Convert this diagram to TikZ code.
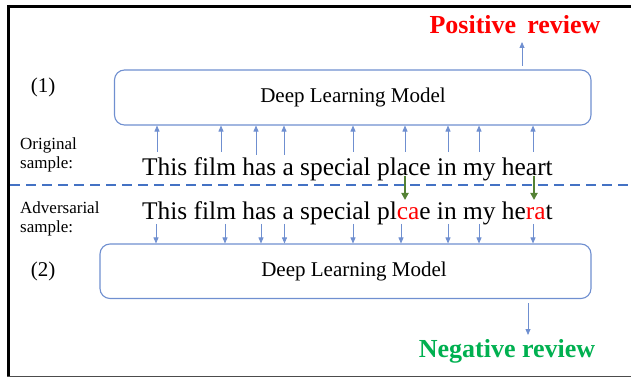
\documentclass[tikz,border=0pt]{standalone}
\usepackage{fontspec}
\setmainfont{Liberation Serif}
\usetikzlibrary{arrows.meta}
\definecolor{oblue}{HTML}{4472C4}
\definecolor{lblue}{HTML}{6F8FD0}
\definecolor{ogreen}{HTML}{00B050}
\definecolor{dgreen}{HTML}{548235}
\tikzset{
  modelbox/.style={draw=lblue, line width=1.1pt, rounded corners=10pt, inner sep=0pt},
  modeltext/.style={font=\fontsize{21}{25}\selectfont, inner sep=0pt},
  sentence/.style={font=\fontsize{25.4}{30}\selectfont, inner sep=0pt, anchor=base west},
  sidelabel/.style={font=\fontsize{17}{19}\selectfont, align=left, inner sep=0pt, anchor=base west},
  numlabel/.style={font=\fontsize{21}{25}\selectfont, inner sep=0pt},
  verdict/.style={font=\bfseries\fontsize{26}{30}\selectfont, inner sep=0pt, anchor=base},
  thinarrow/.style={draw=lblue, line width=0.8pt, -{Triangle[width=5pt,length=6pt]}},
  greenarrow/.style={draw=dgreen, line width=2pt, -{Triangle[width=7pt,length=7pt]}},
  divider/.style={draw=oblue, line width=2pt, dash pattern=on 10pt off 6pt}
}
\begin{document}
\begin{tikzpicture}[x=1pt,y=-1pt]
\useasboundingbox (0,0) rectangle (631,379);
% frame
\draw[black, line width=3pt] (8.5,6.5) -- (631,6.5);
\draw[black, line width=3pt] (8.5,5) -- (8.5,377);
\draw[black!70, line width=1pt] (7,376.5) -- (631,376.5);

% boxes
\node[modelbox, minimum width=476.5pt, minimum height=55pt] (m1) at (352.75,97.5) {};
\node[modeltext] (t1) at (353,97.5) {Deep Learning Model};
\node[modelbox, minimum width=491pt, minimum height=54.5pt] (m2) at (345.5,271.25) {};
\node[modeltext] (t2) at (354,271.25) {Deep Learning Model};

\node[numlabel] (n1) at (43,87) {(1)};
\node[numlabel] (n2) at (43,271) {(2)};

\node[sidelabel] (orig) at (20,169) {Original\\sample:};
\node[sidelabel] (adv) at (20,233) {Adversarial\\sample:};

\node[sentence] (s1) at (142,176) {This film has a special place in my heart};
\node[sentence] (s2) at (142,220) {This film has a special pl\textcolor{red}{ca}e in my he\textcolor{red}{ra}t};

\node[verdict, text=red] (pos) at (515,34) {Positive\hspace{11pt}review};
\node[verdict, text=ogreen] (neg) at (507,357) {Negative review};

% output arrows
\coordinate (o1) at (522,66);
\coordinate (o1e) at (522,42);
\draw[thinarrow] (o1) -- (o1e);
\coordinate (o2) at (528,303);
\coordinate (o2e) at (528,335);
\draw[thinarrow] (o2) -- (o2e);

% input arrows, original sample
\foreach \x/\y in {157/152, 221/152, 256/155, 284/155, 353/152, 405/152, 448/152, 479/152, 533/152}{
  \coordinate (u) at (\x,\y);
  \draw[thinarrow] (u) -- (u |- m1.south);
}
% input arrows, adversarial sample
\foreach \x in {156, 225, 261, 284.5, 353, 401, 448, 479, 533}{
  \coordinate (d) at (\x,224);
  \draw[thinarrow] (d) -- (d |- m2.north);
}

% divider
\coordinate (dl) at (10,185);
\coordinate (dr) at (631,185);
\draw[divider] (dl) -- (dr);

% perturbation arrows
\coordinate (g1) at (405,176);
\coordinate (g2) at (534,176);
\draw[greenarrow] (g1) -- ++(0,24);
\draw[greenarrow] (g2) -- ++(0,24);
\end{tikzpicture}
\end{document}
